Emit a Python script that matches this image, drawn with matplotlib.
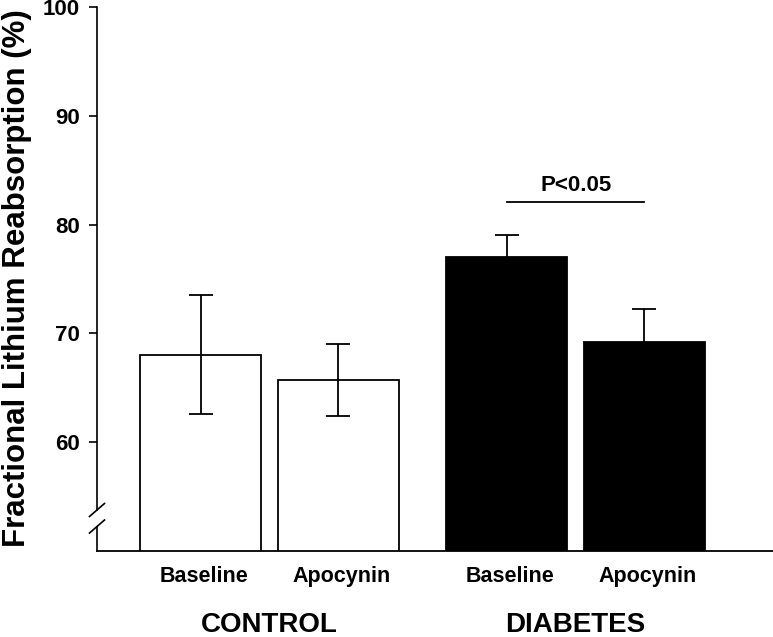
import matplotlib
matplotlib.use("Agg")
import matplotlib.pyplot as plt
from matplotlib.transforms import blended_transform_factory

plt.rcParams['font.family'] = ['Liberation Sans', 'DejaVu Sans']

groups = ["CONTROL", "DIABETES"]
conditions = ["Baseline", "Apocynin", "Baseline", "Apocynin"]
means = [68.05, 65.7, 77.0, 69.2]
sems = [5.45, 3.3, 2.0, 3.0]
colors = ["white", "white", "black", "black"]
yticks = [60, 70, 80, 90, 100]
sig_text = "P<0.05"
sig_level = 82.1

positions = [0.0, 1.0, 2.225, 3.225]
width = 0.88

W, H = 773, 637
fig = plt.figure(figsize=(W / 100, H / 100), dpi=100)
ax = fig.add_axes([97 / W, (H - 551) / H, (W - 97) / W, 544 / H])

ax.bar(positions, means, width=width, bottom=0, color=colors, edgecolor="black",
       linewidth=1.3, zorder=2)
ax.errorbar(positions, means, yerr=sems, fmt="none", ecolor="black",
            elinewidth=1.3, capsize=8.5, capthick=1.3, zorder=3)

ax.set_ylim(50, 100)
ax.set_xlim(-0.756, 4.16)
ax.set_yticks(yticks)
ax.set_yticklabels([str(t) for t in yticks], fontsize=16, fontweight="bold")
ax.tick_params(axis="y", direction="out", length=5.5, width=1.2, pad=7)
ax.set_xticks([])

for s in ["top", "right"]:
    ax.spines[s].set_visible(False)
ax.spines["bottom"].set_linewidth(1.3)
ax.spines["left"].set_linewidth(1.2)
ax.spines["left"].set_bounds(53.8, 100)

# lower segment of y axis and break marks
tr = blended_transform_factory(ax.transAxes, ax.transData)
ax.plot([0, 0], [50, 52.25], color="black", lw=1.2, transform=tr, clip_on=False)
dx = 7.5 / (W - 97)
dy = 6.5 / 10.88
for yc in [53.77, 52.25]:
    ax.plot([-dx, dx], [yc - dy, yc + dy], color="black", lw=1.2,
            transform=tr, clip_on=False)

# significance bar
ax.plot([positions[2], positions[3]], [sig_level, sig_level], color="black", lw=1.3)
ax.text((positions[2] + positions[3]) / 2, sig_level + 0.55, sig_text,
        ha="center", va="bottom", fontsize=16, fontweight="bold")

# category and group labels
xtr = blended_transform_factory(ax.transData, fig.transFigure)
for p, c in zip(positions, conditions):
    ax.text(p + 0.02, (H - 582) / H, c, transform=xtr, ha="center", va="baseline",
            fontsize=15.5, fontweight="bold")
for i, g in enumerate(groups):
    xc = (positions[2 * i] + positions[2 * i + 1]) / 2
    ax.text(xc, (H - 632) / H, g, transform=xtr, ha="center", va="baseline",
            fontsize=20, fontweight="bold")

fig.text(17 / W, 1 - 278 / H, "Fractional Lithium Reabsorption (%)", rotation=90,
         ha="center", va="center", fontsize=22.5, fontweight="bold")

fig.savefig("out.png", dpi=100)
